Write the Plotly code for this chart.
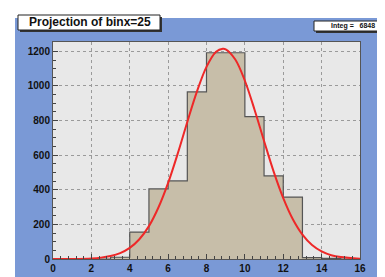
import plotly.graph_objects as go

# ---- data ----
bin_edges = list(range(0, 17))
bin_counts = [0, 0, 0, 10, 155, 405, 452, 966, 1192, 1192, 823, 480, 358, 8, 4, 0]

fit_x = [0, 1, 2, 2.5, 3, 3.5, 4, 4.5, 5, 5.5, 6, 6.5, 7, 7.5, 8, 8.5, 8.85, 9, 9.5,
         10, 10.5, 11, 11.5, 12, 12.5, 13, 13.5, 14, 14.5, 15, 16]
fit_y = [0, 0.5, 3.4, 7.9, 17, 34, 64, 114, 190, 299, 440, 609, 792, 967, 1110, 1197, 1215, 1212, 1153,
         1030, 864, 682, 505, 352, 230, 141, 81, 44, 22, 11, 2]

x_ticks = [0, 2, 4, 6, 8, 10, 12, 14, 16]
y_ticks = [0, 200, 400, 600, 800, 1000, 1200]
title_text = "Projection of binx=25"
stats_text = "Integ =   6848"

W, H = 385, 277
L, R, T, B = 45, 33, 34, 26
PW, PH = W - L - R, H - T - B


def fx(px):
    return (px - L) / PW


def fy(py):
    return (H - B - py) / PH


centers = [(a + b) / 2 for a, b in zip(bin_edges[:-1], bin_edges[1:])]
widths = [b - a for a, b in zip(bin_edges[:-1], bin_edges[1:])]

fig = go.Figure()
fig.add_trace(go.Bar(
    x=centers, y=bin_counts, width=widths,
    marker=dict(color="#c7bea9", line=dict(width=0)),
    hoverinfo="skip", showlegend=False,
))
step_x = bin_edges
step_y = bin_counts + [bin_counts[-1]]
fig.add_trace(go.Scatter(
    x=step_x, y=step_y, mode="lines", line=dict(shape="hv", color="#555555", width=1.2),
    hoverinfo="skip", showlegend=False,
))
fig.add_trace(go.Scatter(
    x=fit_x, y=fit_y, mode="lines", line=dict(shape="spline", color="rgb(238,40,40)", width=2),
    hoverinfo="skip", showlegend=False,
))

shapes = [
    # white strips around the blue pad
    dict(type="rect", xref="paper", yref="paper", x0=fx(-2), x1=fx(7), y0=fy(-2), y1=fy(H + 2),
         fillcolor="white", line=dict(width=0), layer="below"),
    dict(type="rect", xref="paper", yref="paper", x0=fx(-2), x1=fx(W + 2), y0=fy(-2), y1=fy(10),
         fillcolor="white", line=dict(width=0), layer="below"),
    # title box shadow + box
    dict(type="rect", xref="paper", yref="paper", x0=fx(12), x1=fx(154), y0=fy(9), y1=fy(24),
         fillcolor="#333333", line=dict(width=0)),
    dict(type="rect", xref="paper", yref="paper", x0=fx(10), x1=fx(152), y0=fy(7), y1=fy(22),
         fillcolor="white", line=dict(color="#222222", width=1)),
    # stats box shadow + box
    dict(type="rect", xref="paper", yref="paper", x0=fx(308), x1=fx(385), y0=fy(15), y1=fy(25),
         fillcolor="#333333", line=dict(width=0)),
    dict(type="rect", xref="paper", yref="paper", x0=fx(306), x1=fx(383), y0=fy(13), y1=fy(23),
         fillcolor="white", line=dict(color="#222222", width=1)),
]

annotations = [
    dict(x=fx(82), y=fy(14.5), xref="paper", yref="paper", text=title_text, showarrow=False,
         font=dict(family="Liberation Sans", size=12, color="#111111", weight="bold"),
         xanchor="center", yanchor="middle"),
    dict(x=fx(344.5), y=fy(18), xref="paper", yref="paper", text=stats_text, showarrow=False,
         font=dict(family="Liberation Sans", size=7, color="#111111", weight="bold"),
         xanchor="center", yanchor="middle"),
]

axis_font = dict(family="Liberation Sans", size=10, color="#111111", weight="bold")

fig.update_layout(
    width=W, height=H,
    margin=dict(l=L, r=R, t=T, b=B, pad=0),
    paper_bgcolor="#7a99d6",
    plot_bgcolor="#e8e8e8",
    bargap=0,
    shapes=shapes,
    annotations=annotations,
    font=dict(family="Liberation Sans", size=10, color="#111111"),
    xaxis=dict(
        range=[0, 16], tickmode="array", tickvals=x_ticks, ticktext=[str(v) for v in x_ticks],
        ticks="inside", ticklen=5, tickcolor="#444444",
        minor=dict(dtick=0.4, ticks="inside", ticklen=3, tickcolor="#444444", showgrid=False),
        showgrid=True, gridcolor="#9a9a9a", griddash="dot", gridwidth=1,
        showline=True, linecolor="#555555", mirror=True, zeroline=False,
        tickfont=axis_font,
        layer="above traces",
    ),
    yaxis=dict(
        range=[0, 1254], tickmode="array", tickvals=y_ticks, ticktext=[str(v) for v in y_ticks],
        ticks="inside", ticklen=5, tickcolor="#444444",
        minor=dict(dtick=50, ticks="inside", ticklen=3, tickcolor="#444444", showgrid=False),
        showgrid=True, gridcolor="#9a9a9a", griddash="dot", gridwidth=1,
        showline=True, linecolor="#555555", mirror=True, zeroline=False,
        tickfont=axis_font,
        layer="above traces",
    ),
)

fig.write_html("out.html")
